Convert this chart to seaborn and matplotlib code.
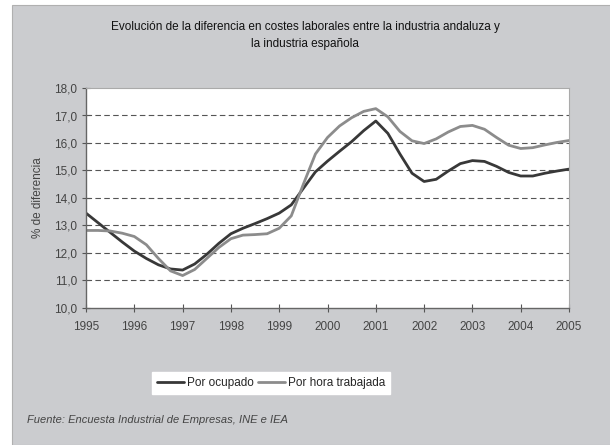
import numpy as np
import pandas as pd
import seaborn as sns
import matplotlib.pyplot as plt
from matplotlib.patches import Rectangle
from matplotlib.ticker import FuncFormatter

# datos trimestrales (1995 - 2005)
periodos = np.arange(1995, 2005.01, 0.25)

por_ocupado = [13.45, 13.1, 12.75, 12.4, 12.07, 11.8, 11.57, 11.42, 11.38,
               11.6, 11.95, 12.35, 12.7, 12.9, 13.07, 13.25, 13.45,
               13.75, 14.35, 14.95, 15.34, 15.7, 16.05, 16.45, 16.8,
               16.35, 15.6, 14.9, 14.6, 14.68, 14.98, 15.25, 15.36,
               15.33, 15.15, 14.93, 14.8, 14.8, 14.9, 14.98, 15.05]

por_hora = [12.82, 12.82, 12.8, 12.72, 12.6, 12.3, 11.8, 11.35, 11.18,
            11.4, 11.8, 12.2, 12.52, 12.65, 12.67, 12.7, 12.9,
            13.35, 14.5, 15.6, 16.2, 16.62, 16.92, 17.15, 17.25,
            16.95, 16.42, 16.08, 15.98, 16.15, 16.4, 16.6, 16.64,
            16.5, 16.2, 15.92, 15.8, 15.83, 15.93, 16.02, 16.09]

series = ["Por ocupado", "Por hora trabajada"]
colores = ["#383838", "#8c8c8c"]

tabla = pd.DataFrame({
    "anio": np.concatenate([periodos, periodos]),
    "valor": por_ocupado + por_hora,
    "serie": [series[0]] * len(periodos) + [series[1]] * len(periodos),
})

sns.set_theme(style="white")
plt.rcParams["font.family"] = ["Liberation Sans", "DejaVu Sans"]

fig = plt.figure(figsize=(6.1, 4.45), dpi=100)
fig.patch.set_facecolor("white")
# panel gris de fondo
fig.patches.append(Rectangle((12 / 610, 0), 1, 1 - 5 / 445, transform=fig.transFigure,
                             facecolor="#cbcccf", edgecolor="#b0b0b0", lw=0.8, zorder=-10))

ax = fig.add_axes([86 / 610, 1 - 308 / 445, (569 - 86) / 610, (308 - 88) / 445])
ax.set_facecolor("white")

sns.lineplot(data=tabla, x="anio", y="valor", hue="serie", palette=colores,
             linewidth=2.0, ax=ax, legend=True)
for ln in ax.lines:
    ln.set_solid_joinstyle("round")

ax.set_xlim(1995, 2005)
ax.set_ylim(10, 18)
ax.set_xticks(range(1995, 2006))
ax.set_yticks(range(10, 19))
ax.yaxis.set_major_formatter(FuncFormatter(lambda v, p: f"{v:.1f}".replace(".", ",")))

for y in range(11, 18):
    ax.axhline(y, color="#555555", lw=0.8, ls=(0, (5, 3)), zorder=0)

for lado in ["left", "bottom"]:
    ax.spines[lado].set_color("#666666")
    ax.spines[lado].set_linewidth(1.0)
for lado in ["top", "right"]:
    ax.spines[lado].set_color("#aaaaaa")
    ax.spines[lado].set_linewidth(0.8)

ax.tick_params(axis="both", direction="inout", length=6, width=0.8, color="#555555",
               labelsize=8.5, labelcolor="#444444", left=True, bottom=True)
ax.tick_params(axis="x", pad=6)

ax.set_xlabel("")
ax.set_ylabel("% de diferencia", fontsize=8.5, color="#444444", labelpad=7)

fig.text(0.5, 1 - 27 / 445, "Evolución de la diferencia en costes laborales entre la industria andaluza y",
         ha="center", va="center", fontsize=8.5, color="#111111")
fig.text(0.5, 1 - 44 / 445, "la industria española",
         ha="center", va="center", fontsize=8.5, color="#111111")

handles, labels = ax.get_legend_handles_labels()
ax.legend(handles, labels, loc="center", bbox_to_anchor=(271 / 610, 1 - 383 / 445),
          bbox_transform=fig.transFigure, ncol=2, frameon=True, fancybox=False,
          facecolor="white", edgecolor="white", framealpha=1, fontsize=8.5,
          handlelength=2.3, handletextpad=0.2, columnspacing=0.4, borderpad=0.45)

fig.text(27 / 610, 1 - 420 / 445, "Fuente: Encuesta Industrial de Empresas, INE e IEA",
         ha="left", va="center", fontsize=8, style="italic", color="#444444")

fig.savefig("out.png", dpi=100)
